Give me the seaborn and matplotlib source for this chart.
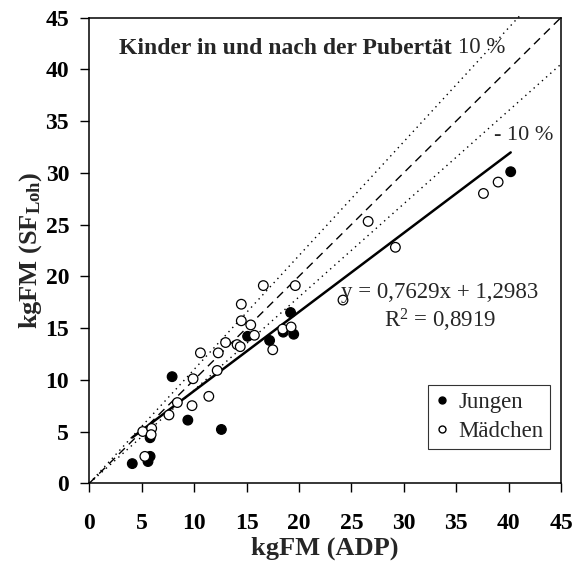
import matplotlib
matplotlib.use("Agg")
import matplotlib.pyplot as plt
import numpy as np
import pandas as pd
import seaborn as sns
from matplotlib.lines import Line2D

# ---- data (kg fat mass) ----
jungen_adp = [4.1, 5.6, 5.8, 5.8, 7.9, 9.4, 12.6, 15.1, 17.2, 18.5, 19.5, 19.2, 40.2]
jungen_sf = [1.9, 2.1, 2.6, 4.4, 10.3, 6.1, 5.2, 14.2, 13.8, 14.6, 14.4, 16.5, 30.1]

maedchen_adp = [5.3, 5.1, 5.95, 5.9, 7.6, 8.4, 9.8, 9.9, 11.4, 10.6, 12.2, 12.3, 13.0,
                14.1, 14.4, 14.5, 14.5, 15.4, 15.75, 16.6, 17.5, 18.45, 19.25, 19.65,
                24.2, 26.6, 29.2, 37.6, 39.0]
maedchen_sf = [2.6, 5.0, 5.3, 4.7, 6.6, 7.8, 7.5, 10.1, 8.4, 12.6, 10.9, 12.6, 13.6,
               13.4, 13.2, 15.7, 17.3, 15.3, 14.3, 19.1, 12.9, 14.9, 15.1, 19.1,
               17.7, 25.3, 22.8, 28.0, 29.1]

groups = ["Jungen", "Mädchen"]
slope, intercept, r2 = 0.7629, 1.2983, 0.8919
limit_pct = 10
ticks = list(range(0, 50, 5))

df = pd.DataFrame({
    "ADP": jungen_adp + maedchen_adp,
    "SF": jungen_sf + maedchen_sf,
    "Gruppe": [groups[0]] * len(jungen_adp) + [groups[1]] * len(maedchen_adp),
})

sns.set_style("ticks")
plt.rcParams["font.family"] = ["Liberation Serif", "DejaVu Serif"]
plt.rcParams["mathtext.fontset"] = "custom"
plt.rcParams["mathtext.rm"] = "Liberation Serif"
plt.rcParams["mathtext.bf"] = "Liberation Serif:bold"
plt.rcParams["mathtext.it"] = "Liberation Serif:italic"

fig = plt.figure(figsize=(5.75, 5.72), dpi=100)
ax = fig.add_axes([0.1553, 0.1551, 0.8204, 0.8143])

# reference lines
lim = ticks[-1]
xs = np.array([0, lim])
ax.plot(xs, xs, color="black", lw=1.0, ls=(0, (6, 4)), zorder=1)
xu = np.array([0, lim / (1 + limit_pct / 100) + 0.2])
ax.plot(xu, xu * (1 + limit_pct / 100), color="black", lw=1.0, ls=(0, (1, 3)),
        zorder=1, clip_on=False)
ax.plot(xs, xs * (1 - limit_pct / 100), color="black", lw=1.0, ls=(0, (1, 3)), zorder=1)

# regression line
xr = np.array([df["ADP"].min(), df["ADP"].max()])
ax.plot(xr, slope * xr + intercept, color="black", lw=1.8, zorder=2)

# points
sns.scatterplot(data=df, x="ADP", y="SF", hue="Gruppe",
                palette={groups[0]: "black", groups[1]: "white"},
                edgecolor="black", linewidth=0.9, s=48, legend=False, ax=ax, zorder=3)

ax.set_xlim(0, lim)
ax.set_ylim(0, lim)
ax.set_xticks(ticks)
ax.set_yticks(ticks)
ax.set_xticklabels([str(t) for t in ticks], fontsize=17, fontweight="bold")
ax.set_yticklabels([str(t) for t in ticks], fontsize=17, fontweight="bold")
ax.tick_params(direction="out", length=6.5, width=1.0, colors="black")
ax.tick_params(axis="x", pad=15)
ax.tick_params(axis="y", pad=8)
for s in ax.spines.values():
    s.set_visible(True)
    s.set_linewidth(1.1)
    s.set_color("black")

ax.set_xlabel("kgFM (ADP)", fontsize=19, fontweight="bold", labelpad=2)
ax.set_ylabel(r"kgFM (SF$_{\mathbf{Loh}}$)", fontsize=19, fontweight="bold", labelpad=1)

# texts
ax.text(2.8, 42.0, "Kinder in und nach der Pubertät", fontsize=17, fontweight="bold",
        ha="left", va="center")
ax.text(35.2, 42.1, f"{limit_pct} %", fontsize=16.5, ha="left", va="center")
ax.text(38.6, 33.6, f"- {limit_pct} %", fontsize=16, ha="left", va="center")
ax.text(33.4, 18.4, f"y = {slope:.4f}x + {intercept:.4f}".replace(".", ","),
        fontsize=16.5, ha="center", va="center")
ax.text(33.5, 15.7, f"R$^2$ = {r2:.4f}".replace(".", ","),
        fontsize=16.5, ha="center", va="center")

handles = [
    Line2D([], [], marker="o", ls="none", markerfacecolor="black", markeredgecolor="black",
           markersize=5, label=groups[0]),
    Line2D([], [], marker="o", ls="none", markerfacecolor="white", markeredgecolor="black",
           markersize=5, label=groups[1]),
]
leg = ax.legend(handles=handles, loc="lower right", bbox_to_anchor=(0.977, 0.074),
                borderaxespad=0, fontsize=16.5, frameon=True, fancybox=False,
                edgecolor="black", handlelength=0.6, handletextpad=0.4,
                labelspacing=0.35, borderpad=0.3)
leg.get_frame().set_linewidth(0.8)

fig.savefig("out.png", dpi=100)
